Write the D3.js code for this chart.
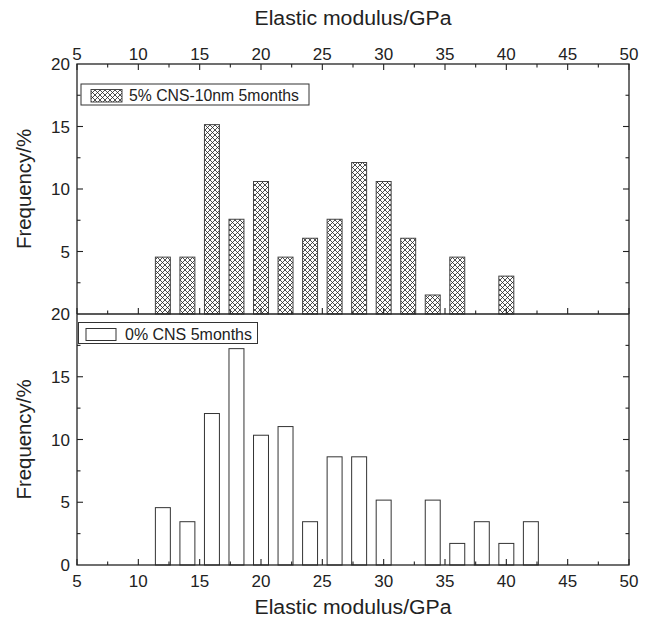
<!DOCTYPE html>
<html><head><meta charset="utf-8">
<script src="https://cdn.jsdelivr.net/npm/d3@7"></script>
<style>body{margin:0;background:#fff}text{font-family:"Liberation Sans",Arial,sans-serif;fill:#222}</style>
</head><body><svg id="c" width="659" height="621"></svg>
<script>
const binsTop = [12,14,16,18,20,22,24,26,28,30,32,34,36,40];
const freqTop = [4.55,4.55,15.15,7.58,10.6,4.55,6.06,7.58,12.12,10.6,6.06,1.52,4.55,3.03];
const binsBot = [12,14,16,18,20,22,24,26,28,30,34,36,38,40,42];
const freqBot = [4.57,3.45,12.07,17.24,10.34,11.03,3.45,8.62,8.62,5.17,5.17,1.72,3.45,1.72,3.45];
const xTicks = [5,10,15,20,25,30,35,40,45,50];
const yTicks = [0,5,10,15,20];
const legendTop = "5% CNS-10nm 5months";
const legendBot = "0% CNS 5months";
const xTitle = "Elastic modulus/GPa";
const yTitle = "Frequency/%";
const barW = 1.22;

const svg = d3.select("#c");
const L=77,R=629,T=64,M=314,B=565;
const x = d3.scaleLinear().domain([5,50]).range([L,R]);
const yT = d3.scaleLinear().domain([0,20]).range([M,T]);
const yB = d3.scaleLinear().domain([0,20]).range([B,M]);

const defs = svg.append("defs");
const pat = defs.append("pattern").attr("id","hatch").attr("patternUnits","userSpaceOnUse")
  .attr("width",5).attr("height",5);
pat.append("rect").attr("width",5).attr("height",5).attr("fill","#fff");
pat.append("path").attr("d","M0,0L5,5M5,0L0,5M-1,4L1,6M4,-1L6,1M4,6L6,4M-1,1L1,-1")
  .attr("stroke","#222").attr("stroke-width",0.8);

// bars
svg.append("g").selectAll("rect").data(binsTop).join("rect")
  .attr("x",d=>x(d-barW/2)).attr("width",x(5+barW)-x(5))
  .attr("y",(d,i)=>yT(freqTop[i])).attr("height",(d,i)=>yT(0)-yT(freqTop[i]))
  .attr("fill","url(#hatch)").attr("stroke","#444").attr("stroke-width",1);
svg.append("g").selectAll("rect").data(binsBot).join("rect")
  .attr("x",d=>x(d-barW/2)).attr("width",x(5+barW)-x(5))
  .attr("y",(d,i)=>yB(freqBot[i])).attr("height",(d,i)=>yB(0)-yB(freqBot[i]))
  .attr("fill","#fff").attr("stroke","#333").attr("stroke-width",1);

// ticks
const minorX = d3.range(7.5,50,5);
const minorY = [2.5,7.5,12.5,17.5];
const tk = svg.append("g").attr("stroke","#222").attr("stroke-width",1.1);
function vt(xv,y0,dir,len){tk.append("line").attr("x1",x(xv)).attr("x2",x(xv)).attr("y1",y0).attr("y2",y0+dir*len);}
function ht(yv,x0,dir,len){tk.append("line").attr("y1",yv).attr("y2",yv).attr("x1",x0).attr("x2",x0+dir*len);}
xTicks.forEach(v=>{vt(v,T,1,6);vt(v,M,-1,6);vt(v,B,-1,6);});
minorX.forEach(v=>{vt(v,T,1,3.5);vt(v,M,-1,3.5);vt(v,B,-1,3.5);});
[5,10,15].forEach(v=>{ht(yT(v),L,1,6);ht(yT(v),R,-1,6);ht(yB(v),L,1,6);ht(yB(v),R,-1,6);});
minorY.forEach(v=>{ht(yT(v),L,1,3.5);ht(yT(v),R,-1,3.5);ht(yB(v),L,1,3.5);ht(yB(v),R,-1,3.5);});

// frames
svg.append("rect").attr("x",L).attr("y",T).attr("width",R-L).attr("height",B-T)
  .attr("fill","none").attr("stroke","#222").attr("stroke-width",1.3);
svg.append("line").attr("x1",L).attr("x2",R).attr("y1",M).attr("y2",M).attr("stroke","#222").attr("stroke-width",1.6);

// tick labels
const fs=17;
svg.append("g").selectAll("text").data(xTicks).join("text")
  .attr("x",d=>x(d)).attr("y",T-4).attr("text-anchor","middle").attr("font-size",fs).text(d=>d);
svg.append("g").selectAll("text").data(xTicks).join("text")
  .attr("x",d=>x(d)).attr("y",B+22).attr("text-anchor","middle").attr("font-size",fs).text(d=>d);
svg.append("g").selectAll("text").data(yTicks.filter(d=>d>0)).join("text")
  .attr("x",L-7).attr("y",d=>yT(d)+6).attr("text-anchor","end").attr("font-size",fs).text(d=>d);
svg.append("g").selectAll("text").data(yTicks).join("text")
  .attr("x",L-7).attr("y",d=>yB(d)+6).attr("text-anchor","end").attr("font-size",fs).text(d=>d);

// titles
svg.append("text").attr("x",(L+R)/2).attr("y",25).attr("text-anchor","middle").attr("font-size",20)
  .attr("textLength",197).attr("lengthAdjust","spacingAndGlyphs").text(xTitle);
svg.append("text").attr("x",(L+R)/2).attr("y",614).attr("text-anchor","middle").attr("font-size",20)
  .attr("textLength",197).attr("lengthAdjust","spacingAndGlyphs").text(xTitle);
[(T+M)/2,(M+B)/2].forEach(cy=>{
  svg.append("text").attr("transform",`translate(31,${cy}) rotate(-90)`).attr("text-anchor","middle").attr("font-size",20)
    .attr("textLength",120).attr("lengthAdjust","spacingAndGlyphs").text(yTitle);
});

// legends
const lg1=svg.append("g");
lg1.append("rect").attr("x",81).attr("y",84).attr("width",228).attr("height",21).attr("fill","#fff").attr("stroke","#333");
lg1.append("rect").attr("x",91).attr("y",89.5).attr("width",31).attr("height",12.5).attr("fill","url(#hatch)").attr("stroke","#444");
lg1.append("text").attr("x",129).attr("y",101).attr("font-size",16)
  .attr("textLength",170).attr("lengthAdjust","spacingAndGlyphs").text(legendTop);
const lg2=svg.append("g");
lg2.append("rect").attr("x",78.5).attr("y",322.5).attr("width",179).attr("height",21).attr("fill","#fff").attr("stroke","#333");
lg2.append("rect").attr("x",86).attr("y",328.5).attr("width",30).attr("height",12).attr("fill","#fff").attr("stroke","#333");
lg2.append("text").attr("x",125).attr("y",339.5).attr("font-size",16)
  .attr("textLength",127).attr("lengthAdjust","spacingAndGlyphs").text(legendBot);
</script></body></html>
